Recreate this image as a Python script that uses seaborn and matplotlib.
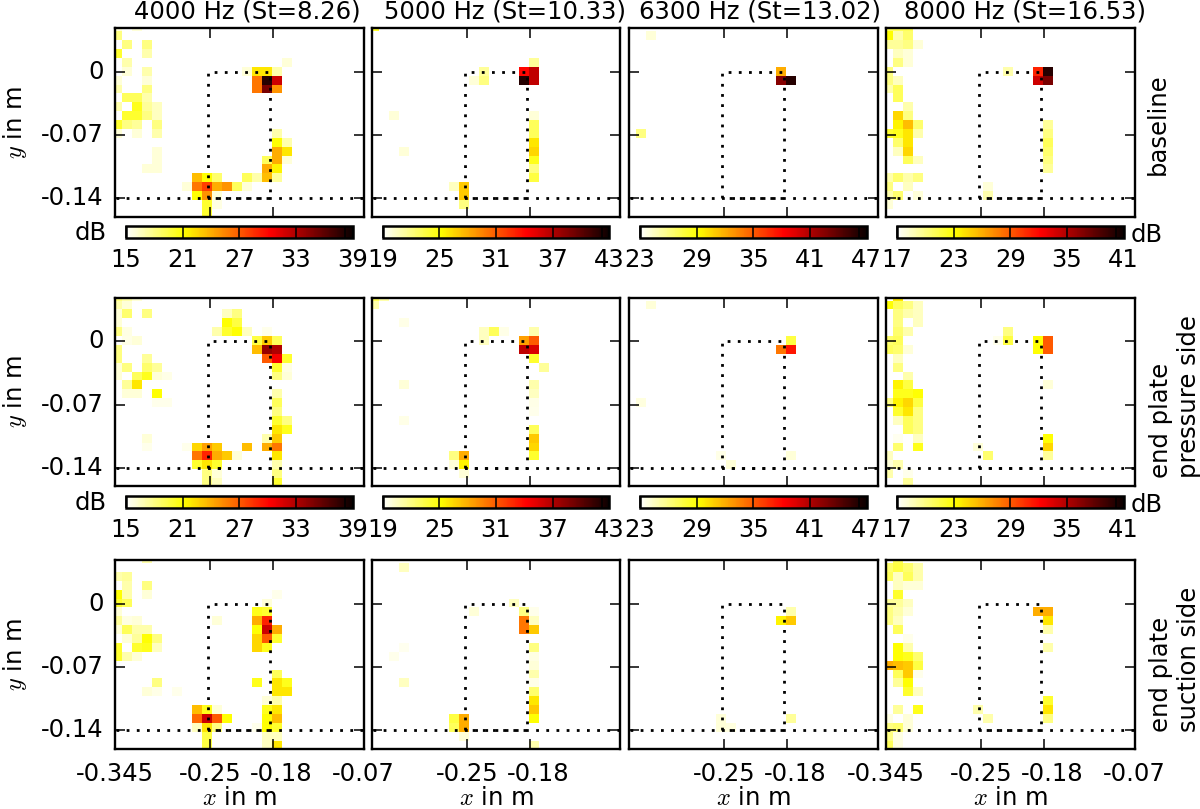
import numpy as np
import pandas as pd
import seaborn as sns
import matplotlib.pyplot as plt
from matplotlib.transforms import ScaledTranslation

# measured sound levels in dB, {grid row: {grid column: level}}, empty cells are below the scale
base_4000 = {
    0: {0: 16, 2: 16}, 1: {0: 18}, 2: {1: 18, 3: 18}, 3: {0: 20, 3: 17}, 4: {1: 17, 17: 16},
    5: {1: 16, 3: 17, 13: 16, 14: 22, 15: 22, 16: 17},
    6: {0: 16, 3: 16, 14: 26, 15: 38, 16: 32},
    7: {0: 17, 3: 18, 14: 26, 15: 35, 16: 25},
    8: {1: 19, 2: 19, 3: 17},
    9: {0: 17, 2: 20.5, 3: 17.5, 4: 16.5},
    10: {1: 20, 2: 20, 3: 18, 4: 16.5},
    11: {0: 20, 1: 18, 2: 17.5, 4: 18},
    12: {0: 16, 2: 16, 4: 17, 16: 17},
    13: {16: 21, 17: 17},
    14: {4: 16, 16: 24, 17: 22},
    15: {4: 16, 15: 19, 16: 24, 17: 16},
    16: {3: 16, 4: 16, 15: 24, 16: 21.5},
    17: {8: 23.5, 9: 21, 10: 18.5, 13: 19, 14: 17, 15: 23.5, 16: 17.5},
    18: {7: 16, 8: 26, 9: 28, 10: 24, 11: 25, 12: 19, 13: 16},
    19: {8: 21, 9: 25, 10: 16},
    20: {9: 20, 10: 15.7},
    21: {9: 20},
}
base_5000 = {
    0: {0: 24}, 4: {16: 21.5},
    5: {11: 21.5, 15: 34, 16: 36.5},
    6: {10: 20, 11: 22, 15: 42, 16: 36.5},
    10: {2: 20, 16: 20}, 11: {16: 23}, 12: {16: 23}, 13: {16: 26},
    14: {3: 20, 16: 26.5}, 15: {16: 24.5}, 16: {16: 22}, 17: {16: 23.5},
    18: {8: 20.5, 9: 27}, 19: {9: 27}, 20: {9: 22},
}
base_6300 = {1: {2: 24}, 5: {15: 32}, 6: {15: 42.5, 16: 46}, 12: {1: 26}}
base_8000 = {
    0: {0: 21, 1: 21, 2: 21},
    1: {0: 23, 1: 19, 2: 20.5},
    2: {0: 19.5, 1: 19.5, 2: 20, 3: 18},
    3: {1: 18.5, 2: 18},
    4: {1: 20, 2: 18},
    5: {0: 20, 12: 19, 15: 31, 16: 40},
    6: {0: 20, 1: 18.5, 15: 34, 16: 37},
    7: {0: 19, 1: 21}, 8: {1: 21}, 9: {2: 19},
    10: {1: 24.5, 2: 20},
    11: {1: 23.5, 2: 25.5, 3: 20.5, 16: 19.5},
    12: {0: 22, 1: 22.5, 2: 24, 3: 19, 16: 20},
    13: {1: 20.5, 2: 24, 16: 21},
    14: {1: 18.5, 2: 24.5, 16: 20.5},
    15: {2: 21, 3: 18.5, 16: 20},
    16: {16: 19.5},
    17: {0: 19, 1: 20.5, 2: 19, 3: 20},
    18: {0: 20, 2: 18.5, 10: 18},
    19: {0: 19, 1: 20.5, 3: 18, 10: 19},
    20: {0: 18},
}

pressure_4000 = {
    0: {0: 18, 1: 17, 2: 16},
    1: {0: 17, 1: 16},
    2: {0: 16, 1: 18.5, 3: 18, 11: 16.5, 12: 18},
    3: {0: 16, 11: 21, 12: 19.5},
    4: {0: 18, 1: 15.7, 10: 17, 11: 20, 12: 21, 13: 16.5, 15: 15.5},
    5: {1: 15.6, 2: 16, 14: 19.5, 15: 23, 16: 19},
    6: {0: 18, 14: 23.5, 15: 34, 16: 33},
    7: {0: 18, 3: 17.5, 15: 27, 16: 30.5, 17: 20},
    8: {0: 16, 1: 18, 3: 18.5, 4: 17.5, 16: 20, 17: 15.7},
    9: {0: 16, 2: 19, 3: 20.5, 4: 16, 5: 15.6, 16: 18, 17: 16},
    10: {1: 17.5, 2: 22},
    11: {1: 16, 2: 16, 4: 21, 16: 17},
    12: {4: 15.5, 5: 15.5, 16: 19},
    13: {16: 18},
    14: {16: 20, 17: 18},
    15: {16: 22, 17: 20.5},
    16: {3: 16, 15: 17, 16: 23},
    17: {3: 15.5, 7: 15.5, 8: 22.5, 9: 24.5, 10: 23, 13: 23.5, 15: 24, 16: 26},
    18: {8: 26, 9: 29, 10: 24, 11: 23, 12: 16, 16: 22},
    19: {8: 20, 9: 22, 10: 20, 16: 17},
    20: {9: 18, 10: 16, 16: 18},
    21: {9: 18, 10: 16.5, 16: 20},
}
pressure_5000 = {
    0: {0: 23, 1: 21}, 1: {0: 21}, 3: {3: 19.6},
    4: {11: 20.5, 12: 23, 13: 19.6, 16: 21},
    5: {11: 20.5, 15: 28.5, 16: 31},
    6: {15: 36.5, 16: 35.5},
    7: {16: 24}, 8: {17: 21.5},
    10: {3: 20, 16: 21}, 11: {16: 20.5}, 12: {16: 19.6}, 13: {16: 19.5},
    14: {3: 19.6}, 15: {16: 23}, 16: {16: 27}, 17: {16: 26.5},
    18: {8: 22, 9: 28, 16: 24},
    19: {8: 20, 9: 25.5},
    20: {9: 20},
}
pressure_6300 = {
    1: {2: 24}, 5: {16: 27.5}, 6: {15: 34, 16: 37.5}, 12: {1: 23.8},
    18: {9: 23.6, 16: 24}, 19: {10: 24},
}
pressure_8000 = {
    0: {1: 24},
    1: {0: 23, 1: 21, 2: 20, 3: 18.5},
    2: {1: 20, 2: 19, 3: 18.5},
    3: {1: 20, 3: 18.5},
    4: {1: 20.5, 2: 19, 12: 20},
    5: {0: 20.5, 1: 21, 11: 17.5, 12: 21.5, 15: 23, 16: 29},
    6: {0: 21, 1: 20.5, 2: 18, 15: 23, 16: 29},
    7: {1: 18.5}, 8: {1: 20}, 9: {2: 19},
    10: {1: 23.5, 2: 21.5, 16: 18},
    11: {1: 22.5, 2: 22.5, 3: 23},
    12: {0: 20, 1: 23.5, 2: 24.5, 3: 21.5},
    13: {1: 22, 2: 24, 3: 20},
    14: {1: 18.5, 2: 21, 3: 20},
    15: {2: 21, 3: 20},
    16: {1: 17.4, 3: 18.5, 16: 23},
    17: {1: 20.5, 3: 22.5, 9: 18, 16: 24.5},
    18: {0: 18.5, 10: 20.5, 16: 19.5},
    19: {0: 18, 1: 19},
    20: {0: 19, 2: 17.5},
    21: {2: 19.5},
}

suction_4000 = {
    0: {3: 17}, 2: {0: 17, 1: 17.5}, 3: {1: 17, 3: 18},
    4: {0: 21, 1: 17, 3: 16, 16: 15.5},
    5: {0: 20, 1: 19, 15: 16},
    6: {0: 16, 14: 20.5, 15: 20},
    7: {0: 17.5, 1: 15.7, 2: 16, 10: 16, 14: 24, 15: 29},
    8: {0: 16, 1: 19, 2: 17, 3: 17, 14: 21, 15: 32, 16: 24},
    9: {1: 16, 2: 17.5, 3: 21, 4: 18, 14: 22.5, 15: 27, 16: 20},
    10: {0: 20, 2: 20, 3: 20.5, 4: 16.5, 14: 22.5, 15: 20.5},
    11: {0: 20, 1: 17, 2: 16},
    13: {16: 19},
    14: {4: 18, 14: 20.5, 16: 22, 17: 20.5},
    15: {3: 16, 4: 15.6, 6: 15.5, 16: 22, 17: 22},
    16: {15: 16, 16: 17},
    17: {8: 23.5, 9: 20.5, 10: 16, 15: 20.5, 16: 22},
    18: {8: 26.5, 9: 32, 10: 27, 11: 21, 15: 21, 16: 23.5},
    19: {8: 16.5, 9: 22, 10: 18, 14: 15.5, 15: 21, 16: 20},
    20: {9: 19.5, 15: 16.5, 16: 16.5},
    21: {9: 19.5, 15: 16.5, 16: 22},
}
suction_5000 = {
    1: {3: 20.5}, 5: {14: 20.5},
    6: {10: 20, 15: 22, 16: 19.5},
    7: {15: 30, 16: 20.5},
    8: {15: 30, 16: 27},
    10: {3: 19.4, 16: 22}, 11: {2: 19.5, 16: 19.7}, 12: {16: 20}, 13: {16: 21},
    14: {3: 20.5, 16: 19.6}, 15: {16: 22.5}, 16: {16: 26}, 17: {16: 27},
    18: {8: 23.5, 9: 28, 16: 25},
    19: {8: 23, 9: 28},
    20: {9: 20}, 21: {16: 21},
}
suction_6300 = {6: {16: 25}, 7: {15: 29.5, 16: 31}, 18: {9: 24, 16: 25.5}, 19: {9: 24, 10: 23.8}}
suction_8000 = {
    0: {1: 21},
    1: {0: 20.5, 1: 21.5, 2: 20.5, 3: 19},
    2: {0: 21, 1: 18.5, 2: 21, 3: 19},
    3: {1: 18.5, 2: 18, 3: 18},
    4: {1: 22},
    5: {0: 19.5, 1: 19.5, 2: 18.5},
    6: {0: 20, 1: 19, 2: 18, 15: 26, 16: 26},
    7: {0: 20, 1: 18.5, 16: 24},
    8: {1: 21, 16: 19},
    9: {2: 17.5},
    10: {1: 23, 2: 19, 16: 19},
    11: {1: 23, 2: 22.5, 3: 20.5},
    12: {0: 26, 1: 25.5, 2: 25, 3: 21.5},
    13: {1: 21, 2: 25, 3: 17.5},
    14: {1: 19.5, 2: 23},
    15: {2: 22, 3: 18.5},
    16: {16: 22},
    17: {1: 19.5, 3: 22.5, 9: 19, 16: 24},
    18: {0: 17.7, 2: 18, 10: 19, 16: 20},
    19: {0: 20, 1: 20.5, 2: 18},
    20: {0: 20, 1: 17.7},
    21: {0: 21, 1: 17.7},
}

panels = [
    [base_4000, base_5000, base_6300, base_8000],
    [pressure_4000, pressure_5000, pressure_6300, pressure_8000],
    [suction_4000, suction_5000, suction_6300, suction_8000],
]
titles = ["4000 Hz (St=8.26)", "5000 Hz (St=10.33)", "6300 Hz (St=13.02)", "8000 Hz (St=16.53)"]
title_x = [0.531, 0.536, 0.527, 0.559]
scale_ticks = [[15, 21, 27, 33, 39], [19, 25, 31, 37, 43], [23, 29, 35, 41, 47], [17, 23, 29, 35, 41]]
row_names = ["baseline", "end plate\npressure side", "end plate\nsuction side"]

# tick and outline places on the measurement grid (grid column / grid row units)
n_rows, n_cols = 23, 26
x_lim = [0.27, 25.1]
y_lim = [21.9, 0.66]
x_tick_pos = [0.27, 9.8, 16.07, 25.1]
x_tick_labels = ["-0.345", "-0.25", "-0.18", "-0.07"]
y_tick_pos = [5.59, 12.73, 19.83]
y_tick_labels = ["0", "-0.07", "-0.14"]
outline_x = [9.6, 9.6, 15.8, 15.8, 9.6]
outline_y = [19.83, 5.59, 5.59, 19.83, 19.83]
floor_x = [0.35, 25.1]
floor_y = [19.83, 19.83]

# axes boxes in pixels
W, H = 1200, 809
col_left = [115, 371.7, 629, 886]
row_top = [28.3, 297.5, 560]
ax_w, ax_h = 248.5, 188.5
cbar_left = [126, 382.7, 640, 897]
cbar_top = [226, 496]
cbar_w, cbar_h = 226.5, 12

sns.set_style('white', rc={'text.color': 'black', 'axes.labelcolor': 'black',
                           'xtick.color': 'black', 'ytick.color': 'black'})
plt.rcParams['font.family'] = ['DejaVu Sans']
plt.rcParams['mathtext.fontset'] = 'cm'
plt.rcParams['axes.unicode_minus'] = False
FS = 17.5
DOTS = (0, (1, 2.66))

fig = plt.figure(figsize=(W / 100, H / 100), dpi=100)
label_shift = ScaledTranslation(8 / 100, 0, fig.dpi_scale_trans)


def box(left, top, w, h):
    return [left / W, 1 - (top + h) / H, w / W, h / H]


for i, row_panels in enumerate(panels):
    for j, cells in enumerate(row_panels):
        ax = fig.add_axes(box(col_left[j], row_top[i], ax_w, ax_h))
        grid = np.full((n_rows, n_cols), np.nan)
        for r, vals in cells.items():
            for c, v in vals.items():
                grid[r, c] = v
        ticks = scale_ticks[j]
        if i < 2:
            cax = fig.add_axes(box(cbar_left[j], cbar_top[i], cbar_w, cbar_h))
            sns.heatmap(pd.DataFrame(grid), ax=ax, cmap='hot_r', vmin=ticks[0], vmax=ticks[-1],
                        cbar_ax=cax, cbar_kws={'orientation': 'horizontal', 'ticks': ticks})
            cb = ax.collections[0].colorbar
            cb.outline.set_linewidth(1.8)
            cb.outline.set_edgecolor('black')
            cax.set_axisbelow(False)
            cax.set_xticks(ticks)
            cax.set_xticks([ticks[-1] - 0.8], minor=True)
            cax.set_xticklabels([str(t) for t in ticks])
            cax.tick_params(axis='x', which='both', direction='in', length=8.6, width=1.1,
                            labelsize=FS, pad=7, bottom=True, top=False, colors='black')
        else:
            sns.heatmap(pd.DataFrame(grid), ax=ax, cmap='hot_r', vmin=ticks[0], vmax=ticks[-1], cbar=False)

        # the wing outline and the wall as dotted lines
        ax.plot(floor_x, floor_y, color='k', lw=2, ls=DOTS)
        ax.plot(outline_x, outline_y, color='k', lw=2, ls=DOTS)

        ax.set_xlim(x_lim)
        ax.set_ylim(y_lim)
        ax.set_axisbelow(False)
        for s in ax.spines.values():
            s.set_visible(True)
            s.set_linewidth(1.7)
            s.set_color('black')

        ax.set_xticks(x_tick_pos if j in (0, 3) else x_tick_pos[1:3])
        ax.set_xticklabels([])
        ax.set_yticks(y_tick_pos)
        ax.set_yticklabels([])
        ax.tick_params(direction='in', length=7.2, width=1.1, top=True, right=True, left=True,
                       bottom=True, labelsize=FS, colors='black', labelrotation=0)
        ax.tick_params(axis='x', pad=10)
        ax.tick_params(axis='y', pad=8)
        if i == 2:
            if j in (0, 3):
                ax.set_xticklabels(x_tick_labels)
            else:
                ax.set_xticklabels(x_tick_labels[1:3])
            # the -0.18 label sits a little right of its tick
            lab = [t for t in ax.get_xticklabels() if t.get_text() == "-0.18"][0]
            lab.set_transform(lab.get_transform() + label_shift)
            ax.set_xlabel("$x$ in m", fontsize=FS)
            ax.xaxis.set_label_coords(0.5, -0.2)
        if j == 0:
            ax.set_yticklabels(y_tick_labels)
            ax.set_ylabel("$y$ in m", fontsize=FS)
            ax.yaxis.set_label_coords(-0.345, 0.5)
        if i == 0:
            ax.set_title(titles[j], fontsize=FS, x=title_x[j], pad=6.8)
        if j == 3:
            name_x = 1158 if i == 0 else 1175
            fig.text(name_x / W, 1 - (row_top[i] + ax_h / 2 + (2 if i == 0 else 5)) / H, row_names[i],
                     rotation=90, ha='center', va='center', ma='left', fontsize=FS)

for top in cbar_top:
    fig.text(91 / W, 1 - (top + 7) / H, "dB", ha='center', va='center', fontsize=FS)
    fig.text(1147 / W, 1 - (top + 9) / H, "dB", ha='center', va='center', fontsize=FS)

fig.savefig('out.png', dpi=100)
